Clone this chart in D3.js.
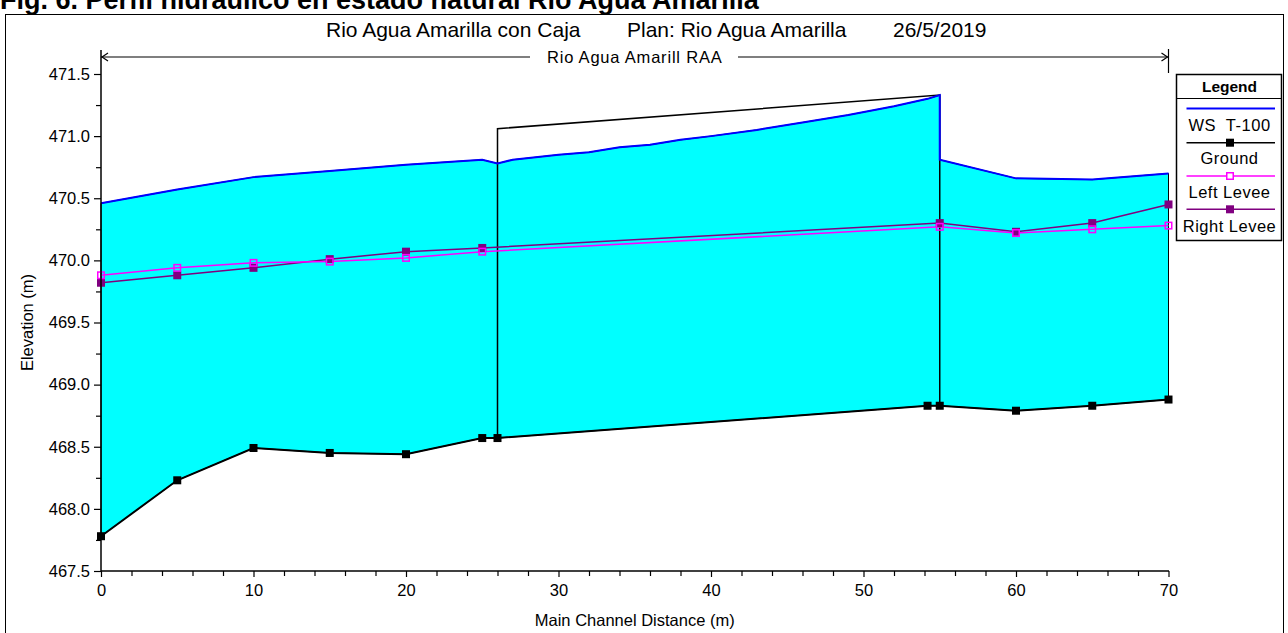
<!DOCTYPE html>
<html>
<head>
<meta charset="utf-8">
<script src="https://cdn.jsdelivr.net/npm/d3@7"></script>
<style>
  body { margin: 0; background: #fff; }
  svg { display: block; }
  text { font-family: "Liberation Sans", Arial, sans-serif; fill: #000; white-space: pre; }
</style>
</head>
<body>
<svg id="chart" width="1288" height="633"></svg>
<script>
// Water surface profile (main channel distance, m / elevation, m)
const wsStation = [0, 5, 10, 15, 20, 25, 26, 27, 30, 32, 34, 36, 38, 40, 43, 46, 49, 52, 54.2, 55, 55, 60, 65, 70];
const wsElev    = [470.46, 470.57, 470.67, 470.72, 470.77, 470.81, 470.78, 470.81, 470.85, 470.87, 470.91, 470.93,
                   470.97, 471.00, 471.05, 471.11, 471.17, 471.24, 471.30, 471.33, 470.81, 470.66, 470.65, 470.70];

// Channel invert
const groundStation = [0, 5, 10, 15, 20, 25, 26, 54.2, 55, 60, 65, 70];
const groundElev    = [467.78, 468.23, 468.49, 468.45, 468.44, 468.57, 468.57, 468.83, 468.83, 468.79, 468.83, 468.88];

// Levees
const leveeStation   = [0, 5, 10, 15, 20, 25, 55, 60, 65, 70];
const leftLeveeElev  = [469.88, 469.94, 469.98, 469.99, 470.02, 470.07, 470.27, 470.22, 470.25, 470.28];
const rightLeveeElev = [469.82, 469.88, 469.94, 470.01, 470.07, 470.10, 470.30, 470.23, 470.30, 470.45];

// Box culvert outline (upstream face, roof, downstream face)
const culvertStation = [26, 26, 55, 55];
const culvertElev    = [468.57, 471.06, 471.33, 468.83];

// Axis ticks
const xTicks = [0, 10, 20, 30, 40, 50, 60, 70];
const xMinorTicks = [2, 4, 6, 8, 12, 14, 16, 18, 22, 24, 26, 28, 32, 34, 36, 38, 42, 44, 46, 48, 52, 54, 56, 58, 62, 64, 66, 68];
const yTicks = [467.5, 468.0, 468.5, 469.0, 469.5, 470.0, 470.5, 471.0, 471.5];
const yMinorTicks = [467.75, 468.25, 468.75, 469.25, 469.75, 470.25, 470.75, 471.25];

const legendLabels = ["WS  T-100", "Ground", "Left Levee", "Right Levee"];

const svg = d3.select("#chart");

const x = d3.scaleLinear().domain([0, 70]).range([101, 1168.5]);
const y = d3.scaleLinear().domain([467.5, 471.5]).range([571, 74]);

const pts = (xs, ys) => xs.map((s, i) => [s, ys[i]]);
const line = d3.line().x(d => x(d[0])).y(d => y(d[1]));

// Outer frame and figure caption
svg.append("rect").attr("x", 5.5).attr("y", 14.5).attr("width", 1278).attr("height", 640)
  .attr("fill", "none").attr("stroke", "#000").attr("stroke-width", 1);
svg.append("text").attr("x", 0).attr("y", 8.5).attr("font-size", 27).attr("font-weight", "bold")
  .text("Fig. 6. Perfil hidráulico en estado natural Río Agua Amarilla");

// Title
const title = svg.append("g").attr("font-size", 21);
title.append("text").attr("x", 326).attr("y", 37).text("Rio Agua Amarilla con Caja");
title.append("text").attr("x", 627).attr("y", 37).text("Plan: Rio Agua Amarilla");
title.append("text").attr("x", 893).attr("y", 37).text("26/5/2019");

// Water between invert and water surface
const wsPts = pts(wsStation, wsElev);
const groundPts = pts(groundStation, groundElev);
svg.append("path")
  .attr("d", line(wsPts.concat(groundPts.slice().reverse())) + "Z")
  .attr("fill", "#00FFFF").attr("stroke", "#000").attr("stroke-width", 1);

// Culvert
svg.append("path").attr("d", line(pts(culvertStation, culvertElev)))
  .attr("fill", "none").attr("stroke", "#000").attr("stroke-width", 1.5);

// Levees
const leftPts = pts(leveeStation, leftLeveeElev);
const rightPts = pts(leveeStation, rightLeveeElev);
svg.append("path").attr("d", line(rightPts)).attr("fill", "none").attr("stroke", "#800080").attr("stroke-width", 1.5);
svg.append("path").attr("d", line(leftPts)).attr("fill", "none").attr("stroke", "#FF00FF").attr("stroke-width", 1.5);

// Water surface
svg.append("path").attr("d", line(wsPts)).attr("fill", "none").attr("stroke", "#0000FF").attr("stroke-width", 2);

// Ground
svg.append("path").attr("d", line(groundPts)).attr("fill", "none").attr("stroke", "#000").attr("stroke-width", 2);

const ms = 8;
svg.append("g").selectAll("rect").data(rightPts).join("rect")
  .attr("x", d => x(d[0]) - ms / 2).attr("y", d => y(d[1]) - ms / 2)
  .attr("width", ms).attr("height", ms).attr("fill", "#800080");
svg.append("g").selectAll("rect").data(leftPts).join("rect")
  .attr("x", d => x(d[0]) - (ms - 1.5) / 2).attr("y", d => y(d[1]) - (ms - 1.5) / 2)
  .attr("width", ms - 1.5).attr("height", ms - 1.5).attr("fill", "none")
  .attr("stroke", "#FF00FF").attr("stroke-width", 1.5);
svg.append("g").selectAll("rect").data(groundPts).join("rect")
  .attr("x", d => x(d[0]) - ms / 2).attr("y", d => y(d[1]) - ms / 2)
  .attr("width", ms).attr("height", ms).attr("fill", "#000");

// Axes
const fmt = d3.format(".1f");
const yAxis = svg.append("g").attr("transform", "translate(101,0)")
  .call(d3.axisLeft(y).tickValues(yTicks).tickFormat(fmt).tickSize(7).tickPadding(4));
yAxis.select(".domain").remove();
yAxis.selectAll("text").attr("font-size", 16.5).attr("font-family", "Liberation Sans, Arial, sans-serif");
const yMinor = svg.append("g").attr("transform", "translate(101,0)")
  .call(d3.axisLeft(y).tickValues(yMinorTicks).tickFormat("").tickSize(5));
yMinor.select(".domain").remove();
svg.append("line").attr("x1", 101).attr("x2", 101).attr("y1", 571.5).attr("y2", 50)
  .attr("stroke", "#000").attr("stroke-width", 1.5);

const xAxis = svg.append("g").attr("transform", "translate(0,571)")
  .call(d3.axisBottom(x).tickValues(xTicks).tickSize(6).tickPadding(7));
xAxis.select(".domain").remove();
xAxis.selectAll("text").attr("font-size", 16.5).attr("font-family", "Liberation Sans, Arial, sans-serif");
const xMinor = svg.append("g").attr("transform", "translate(0,571)")
  .call(d3.axisBottom(x).tickValues(xMinorTicks).tickFormat("").tickSize(5));
xMinor.select(".domain").remove();
svg.append("line").attr("x1", 101).attr("x2", 1169).attr("y1", 571).attr("y2", 571)
  .attr("stroke", "#000").attr("stroke-width", 1.5);

svg.selectAll(".tick line").attr("stroke-width", 1.2);

svg.append("text").attr("transform", `translate(33,${(y(467.5) + y(471.5)) / 2}) rotate(-90)`)
  .attr("text-anchor", "middle").attr("font-size", 16.5).text("Elevation (m)");
svg.append("text").attr("x", (x(0) + x(70)) / 2).attr("y", 626)
  .attr("text-anchor", "middle").attr("font-size", 16.5).text("Main Channel Distance (m)");

// Reach extent bracket
const reachY = 57;
const reach = svg.append("g").attr("stroke", "#000").attr("stroke-width", 1.2).attr("fill", "none");
reach.append("line").attr("x1", x(70)).attr("x2", x(70)).attr("y1", 49).attr("y2", 73);
reach.append("line").attr("x1", x(0)).attr("x2", 530).attr("y1", reachY).attr("y2", reachY);
reach.append("line").attr("x1", 738).attr("x2", x(70)).attr("y1", reachY).attr("y2", reachY);
reach.append("path").attr("d", `M${x(0) + 7},${reachY - 4}L${x(0) + 1},${reachY}L${x(0) + 7},${reachY + 4}`);
reach.append("path").attr("d", `M${x(70) - 7},${reachY - 4}L${x(70) - 1},${reachY}L${x(70) - 7},${reachY + 4}`);
svg.append("text").attr("x", (x(0) + x(70)) / 2).attr("y", reachY + 6).attr("text-anchor", "middle")
  .attr("font-size", 16.5).attr("letter-spacing", 0.8).text("Rio Agua Amarill RAA");

// Legend
const lg = svg.append("g");
const lgX0 = 1176, lgX1 = 1281;
lg.append("rect").attr("x", lgX0 + 0.5).attr("y", 74.5).attr("width", lgX1 - lgX0).attr("height", 166)
  .attr("fill", "#fff").attr("stroke", "#000").attr("stroke-width", 1.5);
lg.append("line").attr("x1", lgX0).attr("x2", lgX1).attr("y1", 98.5).attr("y2", 98.5)
  .attr("stroke", "#000").attr("stroke-width", 1.2);
const lgCx = (lgX0 + lgX1) / 2 + 1;
lg.append("text").attr("x", lgCx).attr("y", 92).attr("text-anchor", "middle")
  .attr("font-size", 15.5).attr("font-weight", "bold").text("Legend");
const lgLineX0 = 1186.5, lgLineX1 = 1275;
const lgLineY = [108.5, 142.7, 176, 209.3];
const lgTextY = [131, 164, 197.7, 232.3];
const lgColor = ["#0000FF", "#000", "#FF00FF", "#800080"];
legendLabels.forEach((lab, i) => {
  lg.append("line").attr("x1", lgLineX0).attr("x2", lgLineX1).attr("y1", lgLineY[i]).attr("y2", lgLineY[i])
    .attr("stroke", lgColor[i]).attr("stroke-width", i === 0 ? 2 : 1.5);
  if (i === 1 || i === 3) {
    lg.append("rect").attr("x", 1230 - 4).attr("y", lgLineY[i] - 4).attr("width", 8).attr("height", 8)
      .attr("fill", lgColor[i]);
  } else if (i === 2) {
    lg.append("rect").attr("x", 1230 - 3.25).attr("y", lgLineY[i] - 3.25).attr("width", 6.5).attr("height", 6.5)
      .attr("fill", "#fff").attr("stroke", lgColor[i]).attr("stroke-width", 1.5);
  }
  lg.append("text").attr("x", lgCx).attr("y", lgTextY[i]).attr("text-anchor", "middle")
    .attr("font-size", 16.5).attr("letter-spacing", 0.5).text(lab);
});
</script>
</body>
</html>
